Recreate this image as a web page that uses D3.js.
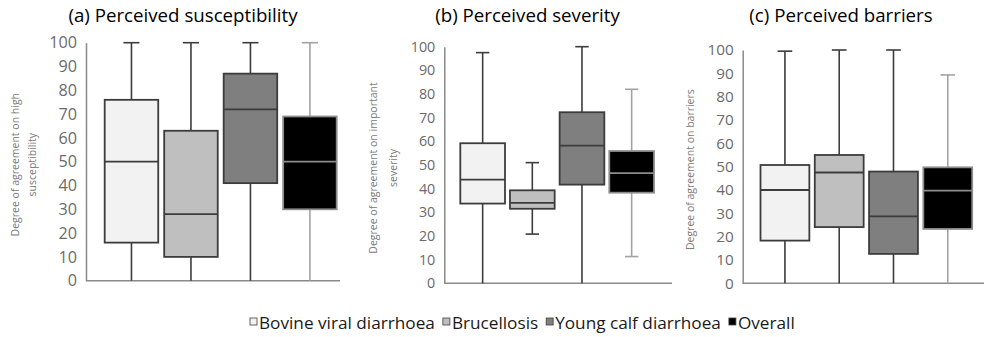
<!DOCTYPE html>
<meta charset="utf-8">
<style>
body { margin: 0; background: #fff; font-family: "Open Sans", sans-serif; }
.title { fill: #000; text-anchor: middle; }
.axis text { fill: #6b6b6b; font-family: "Open Sans", sans-serif; }
.axis path { stroke: #8a8a8a; stroke-width: 1.5; }
.ylab { fill: #7a7a7a; text-anchor: middle; }
.legend text { fill: #1a1a1a; }
</style>
<svg width="984" height="337"></svg>
<script src="https://cdnjs.cloudflare.com/ajax/libs/d3/7.8.5/d3.min.js"></script>
<script>

var groups = ["Bovine viral diarrhoea", "Brucellosis", "Young calf diarrhoea", "Overall"];
var fills = ["#f2f2f2", "#bfbfbf", "#7f7f7f", "#000000"];

// [min, q1, median, q3, max] per group
var susceptibility = [
  [0, 16, 50, 76, 100],
  [0, 10, 28, 63, 100],
  [0, 41, 72, 87, 100],
  [0, 30, 50, 69, 100]
];
var severity = [
  [0, 33.7, 43.8, 59.2, 97.5],
  [20.8, 31.5, 34, 39.3, 51],
  [0, 41.7, 58.2, 72.3, 100],
  [11.3, 38.3, 46.6, 55.9, 82]
];
var barriers = [
  [0, 18.3, 40, 50.7, 99.5],
  [0, 24.1, 47.5, 55, 100],
  [0, 12.6, 28.7, 47.9, 100],
  [0, 23.3, 39.7, 49.7, 89.3]
];
var yTicks = [0, 10, 20, 30, 40, 50, 60, 70, 80, 90, 100];

var panels = [
  { title: "(a) Perceived susceptibility", data: susceptibility,
    ylab: ["Degree of agreement on high", "susceptibility"],
    ax: 86, axEnd: 340, top: 42.7, bottom: 280.7, band: [104.7, 336.7],
    titleX: 183, labX: [15, 32], tickSize: 16.2 },
  { title: "(b) Perceived severity", data: severity,
    ylab: ["Degree of agreement on important", "severity"],
    ax: 444.3, axEnd: 672, top: 46.7, bottom: 283.3, band: [460.3, 654],
    titleX: 527.5, labX: [373, 393], tickSize: 14.3 },
  { title: "(c) Perceived barriers", data: barriers,
    ylab: ["Degree of agreement on barriers"],
    ax: 742.7, axEnd: 984, top: 50, bottom: 283.3, band: [760.5, 972.2],
    titleX: 841, labX: [690], tickSize: 15.3 }
];

var svg = d3.select("svg");

panels.forEach(function(p) {
  var g = svg.append("g");

  var y = d3.scaleLinear().domain([0, 100]).range([p.bottom, p.top]);
  var x = d3.scaleBand().domain(groups).range(p.band).paddingInner(0.1);
  var bw = x.bandwidth();
  var cap = bw * 0.3;

  g.append("text").attr("class", "title")
      .attr("x", p.titleX).attr("y", 22)
      .style("font-size", "18.7px")
      .text(p.title);

  g.append("g").attr("class", "axis")
      .attr("transform", "translate(" + p.ax + ",0)")
      .call(d3.axisLeft(y).tickValues(yTicks).tickSize(0).tickPadding(9))
      .call(function(a) { a.selectAll("text").style("font-size", p.tickSize + "px"); });

  g.append("line")
      .attr("x1", p.ax).attr("x2", p.axEnd)
      .attr("y1", y(0)).attr("y2", y(0))
      .attr("stroke", "#8a8a8a").attr("stroke-width", 1.5);

  var mid = (p.top + p.bottom) / 2 + 3;
  p.ylab.forEach(function(t, i) {
    g.append("text").attr("class", "ylab")
        .attr("transform", "translate(" + p.labX[i] + "," + mid + ") rotate(-90)")
        .attr("dy", "0.35em")
        .style("font-size", "10.5px")
        .text(t);
  });

  var box = g.selectAll("g.box")
      .data(p.data)
      .enter().append("g").attr("class", "box")
      .attr("transform", function(d, i) { return "translate(" + x(groups[i]) + ",0)"; });

  box.each(function(d, i) {
    var b = d3.select(this);
    var last = i === 3;
    var wc = last ? "#a3a3a3" : "#3c3c3c";
    var cx = bw / 2;
    // whiskers
    b.append("line").attr("x1", cx).attr("x2", cx)
        .attr("y1", y(d[4])).attr("y2", y(d[3]))
        .attr("stroke", wc).attr("stroke-width", 1.6);
    b.append("line").attr("x1", cx).attr("x2", cx)
        .attr("y1", y(d[1])).attr("y2", y(d[0]))
        .attr("stroke", wc).attr("stroke-width", 1.6);
    b.append("line").attr("x1", cx - cap / 2).attr("x2", cx + cap / 2)
        .attr("y1", y(d[4])).attr("y2", y(d[4]))
        .attr("stroke", wc).attr("stroke-width", 1.6);
    if (d[0] > 0) {
      b.append("line").attr("x1", cx - cap / 2).attr("x2", cx + cap / 2)
          .attr("y1", y(d[0])).attr("y2", y(d[0]))
          .attr("stroke", wc).attr("stroke-width", 1.6);
    }
    // box
    b.append("rect")
        .attr("x", 0).attr("width", bw)
        .attr("y", y(d[3])).attr("height", y(d[1]) - y(d[3]))
        .attr("fill", fills[i])
        .attr("stroke", last ? "#8c8c8c" : "#3c3c3c")
        .attr("stroke-width", 1.8);
    b.append("line").attr("x1", 0).attr("x2", bw)
        .attr("y1", y(d[2])).attr("y2", y(d[2]))
        .attr("stroke", last ? "#8c8c8c" : "#3c3c3c")
        .attr("stroke-width", 1.8);
  });
});

// legend
var legend = svg.append("g").attr("class", "legend");
var lx = 250, ly = 323;
groups.forEach(function(name, i) {
  legend.append("rect")
      .attr("x", lx).attr("y", ly - 5)
      .attr("width", 7).attr("height", 7)
      .attr("fill", fills[i])
      .attr("stroke", "#404040").attr("stroke-width", 0.8);
  var t = legend.append("text")
      .attr("x", lx + 9).attr("y", ly).attr("dy", "0.35em")
      .style("font-size", "17.2px")
      .text(name);
  lx += 9 + t.node().getComputedTextLength() + 8;
});

</script>
